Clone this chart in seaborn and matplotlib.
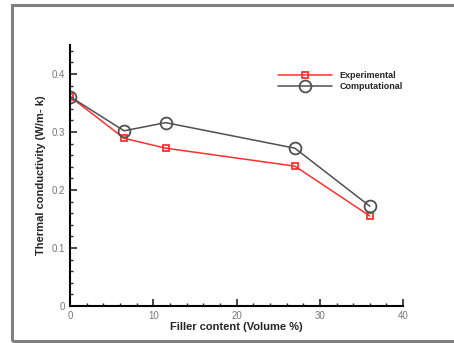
import matplotlib
matplotlib.use("Agg")
import matplotlib.pyplot as plt
import seaborn as sns
import pandas as pd
from matplotlib.patches import Rectangle
from matplotlib.ticker import MultipleLocator

filler = [0, 6.5, 11.5, 27, 36]
experimental = [0.361, 0.289, 0.272, 0.241, 0.155]
computational = [0.361, 0.302, 0.316, 0.272, 0.172]

series_names = ["Experimental", "Computational"]
colors = {"Experimental": "#ff3030", "Computational": "#505050"}
markers = {"Experimental": "s", "Computational": "o"}
msizes = {"Experimental": 5, "Computational": 8.5}

sns.set_style("white")
plt.rcParams["font.family"] = ["Liberation Sans", "DejaVu Sans"]

fig = plt.figure(figsize=(4.54, 3.43), dpi=100)
ax = fig.add_axes([0.154, 0.108, 0.734, 0.761])

for name, vals in zip(series_names, [experimental, computational]):
    df = pd.DataFrame({"filler": filler, "k": vals})
    sns.lineplot(data=df, x="filler", y="k", color=colors[name],
                 marker=markers[name], markersize=msizes[name],
                 markerfacecolor="none", markeredgecolor=colors[name],
                 markeredgewidth=1.3, linewidth=1.1, label=name, ax=ax)

ax.set_xlim(0, 40)
ax.set_ylim(0, 0.45)
ax.xaxis.set_major_locator(MultipleLocator(10))
ax.xaxis.set_minor_locator(MultipleLocator(2))
ax.yaxis.set_minor_locator(MultipleLocator(0.02))
ax.set_yticks([0, 0.1, 0.2, 0.3, 0.4])
ax.set_yticklabels(["0", "0.1", "0.2", "0.3", "0.4"])
ax.tick_params(which="major", direction="in", length=5, width=1.2,
               labelsize=7, labelcolor="#777777", left=True, bottom=True)
ax.tick_params(which="minor", direction="in", length=2.5, width=1,
               left=True, bottom=True)
for side in ["top", "right"]:
    ax.spines[side].set_visible(False)
for side in ["left", "bottom"]:
    ax.spines[side].set_color("black")
    ax.spines[side].set_linewidth(1.5)

ax.set_xlabel("Filler content (Volume %)", fontsize=8, fontweight="bold", labelpad=1)
ax.set_ylabel("Thermal conductivity (W/m- k)", fontsize=8, fontweight="bold", labelpad=4)

ax.legend(loc="upper left", bbox_to_anchor=(0.6, 0.93), frameon=False,
          handlelength=6.0, labelspacing=0.15,
          prop={"weight": "bold", "size": 6.5})

fig.patches.append(Rectangle((12 / 454, 2 / 343), 1.1, 336 / 343,
                             transform=fig.transFigure, fill=False,
                             edgecolor="#808080", linewidth=2.2))

fig.savefig("out.png", dpi=100)
